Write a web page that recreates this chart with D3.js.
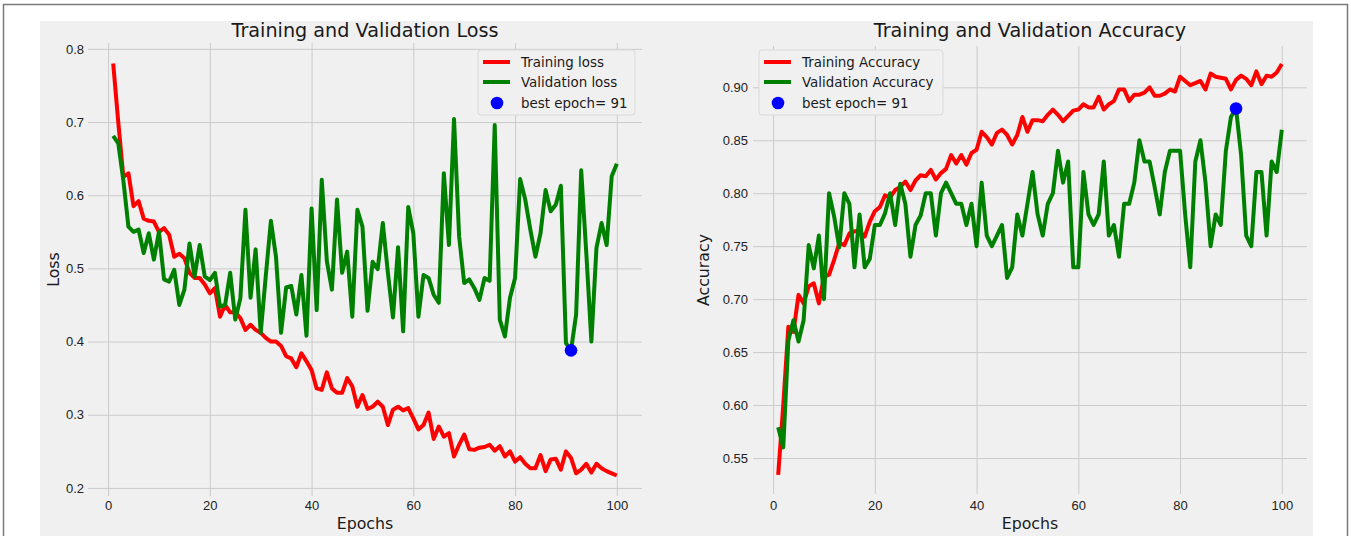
<!DOCTYPE html>
<html>
<head>
<meta charset="utf-8">
<script src="https://cdn.jsdelivr.net/npm/d3@7"></script>
<style>
  html, body { margin: 0; padding: 0; background: #fff; }
  svg { display: block; font-family: "DejaVu Sans", sans-serif; }
  .grid line { stroke: #cbcbcb; stroke-width: 1; }
  .grid text { fill: #222; font-size: 13px; }
</style>
</head>
<body>
<div id="main"></div>
<script>
// values, epoch 1..100
const trainLoss = [0.78,0.70,0.625,0.63,0.585,0.592,0.568,0.565,0.564,0.55,
  0.555,0.546,0.516,0.52,0.514,0.494,0.487,0.487,0.478,0.466,
  0.473,0.434,0.45,0.44,0.44,0.432,0.416,0.423,0.416,0.412,
  0.405,0.40,0.40,0.394,0.38,0.377,0.365,0.384,0.373,0.361,
  0.336,0.334,0.358,0.336,0.33,0.33,0.35,0.339,0.311,0.327,
  0.308,0.311,0.318,0.311,0.286,0.307,0.311,0.306,0.309,0.295,
  0.28,0.286,0.303,0.267,0.284,0.27,0.275,0.243,0.259,0.273,
  0.253,0.252,0.255,0.256,0.259,0.251,0.257,0.243,0.25,0.236,
  0.242,0.233,0.227,0.227,0.245,0.223,0.239,0.24,0.225,0.25,
  0.241,0.22,0.225,0.233,0.221,0.233,0.227,0.223,0.22,0.217];
const valLoss = [0.681,0.671,0.62,0.557,0.55,0.553,0.521,0.548,0.512,0.55,
  0.485,0.482,0.498,0.45,0.471,0.534,0.489,0.532,0.489,0.484,
  0.494,0.448,0.45,0.494,0.43,0.459,0.58,0.46,0.526,0.412,
  0.49,0.565,0.516,0.412,0.474,0.476,0.437,0.491,0.408,0.582,
  0.443,0.621,0.51,0.471,0.594,0.494,0.523,0.434,0.58,0.557,
  0.442,0.509,0.499,0.562,0.494,0.433,0.529,0.414,0.584,0.548,
  0.434,0.491,0.487,0.464,0.453,0.63,0.532,0.704,0.544,0.48,
  0.485,0.473,0.457,0.487,0.483,0.696,0.43,0.407,0.46,0.487,
  0.622,0.594,0.553,0.516,0.548,0.607,0.578,0.587,0.613,0.398,
  0.388,0.437,0.634,0.521,0.40,0.528,0.562,0.532,0.626,0.643];
const trainAcc = [0.534,0.60,0.674,0.669,0.704,0.696,0.712,0.715,0.696,0.721,
  0.723,0.737,0.753,0.751,0.762,0.764,0.764,0.759,0.773,0.783,
  0.787,0.798,0.796,0.803,0.806,0.811,0.803,0.812,0.817,0.816,
  0.822,0.813,0.819,0.823,0.836,0.828,0.836,0.827,0.838,0.841,
  0.858,0.853,0.846,0.857,0.86,0.855,0.846,0.855,0.872,0.858,
  0.869,0.869,0.868,0.874,0.879,0.874,0.868,0.873,0.878,0.879,
  0.884,0.881,0.881,0.891,0.879,0.884,0.887,0.898,0.898,0.887,
  0.893,0.893,0.895,0.90,0.892,0.892,0.894,0.898,0.896,0.91,
  0.906,0.902,0.904,0.906,0.898,0.913,0.91,0.909,0.908,0.898,
  0.907,0.911,0.908,0.902,0.915,0.903,0.911,0.91,0.914,0.922];
const valAcc = [0.579,0.56,0.661,0.68,0.66,0.68,0.751,0.729,0.76,0.70,
  0.80,0.778,0.749,0.80,0.79,0.73,0.78,0.73,0.738,0.77,
  0.77,0.781,0.80,0.77,0.809,0.79,0.74,0.77,0.779,0.80,
  0.80,0.76,0.80,0.81,0.80,0.79,0.79,0.77,0.79,0.75,
  0.81,0.76,0.75,0.76,0.77,0.72,0.73,0.78,0.76,0.79,
  0.82,0.78,0.76,0.79,0.80,0.84,0.81,0.83,0.73,0.73,
  0.82,0.78,0.77,0.78,0.83,0.76,0.77,0.74,0.79,0.79,
  0.81,0.85,0.83,0.83,0.806,0.78,0.82,0.84,0.84,0.84,
  0.78,0.73,0.83,0.85,0.81,0.75,0.78,0.77,0.84,0.872,
  0.88,0.836,0.76,0.75,0.82,0.82,0.76,0.83,0.82,0.86];
const epochs = trainLoss.map((_, i) => i + 1);
const bestEpoch = 91;
const xTicks = [0, 20, 40, 60, 80, 100];
const lossTicks = [0.2, 0.3, 0.4, 0.5, 0.6, 0.7, 0.8];
const accTicks = [0.55, 0.60, 0.65, 0.70, 0.75, 0.80, 0.85, 0.90];

const W = 1351, H = 536;
const svg = d3.select('#main').append('svg')
  .attr('width', W).attr('height', H).attr('viewBox', [0, 0, W, H]);

// page frame + figure background
svg.append('rect').attr('x', 3.5).attr('y', 4.5).attr('width', 1344).attr('height', 560)
  .attr('fill', '#fff').attr('stroke', '#7a7a7a').attr('stroke-width', 1.5);
svg.append('rect').attr('x', 40).attr('y', 21).attr('width', 1273).attr('height', 530)
  .attr('fill', '#f0f0f0');

function panel(o) {
  const sx = d3.scaleLinear().domain([-3.95, 104.95]).range([o.x0, o.x1]);
  const sy = d3.scaleLinear().domain(o.ydom).range([o.y1, o.y0]);

  svg.append('g').attr('class', 'grid')
    .attr('transform', `translate(0,${o.y1})`)
    .call(d3.axisBottom(sx).tickValues(xTicks).tickFormat(d3.format('d'))
      .tickSizeInner(-(o.y1 - o.y0)).tickSizeOuter(0).tickPadding(o.xpad))
    .call(g => g.select('.domain').remove());
  svg.append('g').attr('class', 'grid')
    .attr('transform', `translate(${o.x0},0)`)
    .call(d3.axisLeft(sy).tickValues(o.yticks).tickFormat(d3.format(o.yfmt))
      .tickSizeInner(-(o.x1 - o.x0)).tickSizeOuter(0).tickPadding(o.ypad))
    .call(g => g.select('.domain').remove());

  const line = (vals) => d3.line().x((d, i) => sx(epochs[i])).y(d => sy(d))(vals);
  svg.append('path').attr('d', line(o.train)).attr('fill', 'none')
    .attr('stroke', '#ff0000').attr('stroke-width', 4).attr('stroke-linejoin', 'round');
  svg.append('path').attr('d', line(o.val)).attr('fill', 'none')
    .attr('stroke', '#008000').attr('stroke-width', 4).attr('stroke-linejoin', 'round');
  svg.append('circle').attr('cx', sx(bestEpoch)).attr('cy', sy(o.val[bestEpoch - 1]))
    .attr('r', 6.3).attr('fill', '#0000ff');

  const cx = (o.x0 + o.x1) / 2, cy = (o.y0 + o.y1) / 2;
  svg.append('text').attr('x', cx).attr('y', 37).attr('text-anchor', 'middle')
    .attr('font-size', 19.2).attr('fill', '#1a1a1a').text(o.title);
  svg.append('text').attr('x', cx).attr('y', 529).attr('text-anchor', 'middle')
    .attr('font-size', 15.8).attr('fill', '#1a1a1a').text('Epochs');
  svg.append('text').attr('transform', `translate(${o.ylx},${cy}) rotate(-90)`)
    .attr('text-anchor', 'middle').attr('font-size', 15.8).attr('fill', '#1a1a1a').text(o.ylabel);

  // legend
  const L = o.leg;
  svg.append('rect').attr('x', L.x).attr('y', 50).attr('width', L.w).attr('height', 65)
    .attr('rx', 3).attr('fill', '#f0f0f0').attr('stroke', '#d9d9d9').attr('stroke-width', 1);
  const rows = [
    { y: 62, kind: 'line', color: '#ff0000', label: o.names[0] },
    { y: 82, kind: 'line', color: '#008000', label: o.names[1] },
    { y: 103, kind: 'dot', color: '#0000ff', label: 'best epoch= ' + bestEpoch }
  ];
  rows.forEach(r => {
    if (r.kind === 'line') {
      svg.append('line').attr('x1', L.x + 5).attr('x2', L.x + 32).attr('y1', r.y).attr('y2', r.y)
        .attr('stroke', r.color).attr('stroke-width', 4);
    } else {
      svg.append('circle').attr('cx', L.x + 19).attr('cy', r.y).attr('r', 6.3).attr('fill', r.color);
    }
    svg.append('text').attr('x', L.x + 43).attr('y', r.y + 4.8).attr('font-size', 13.4)
      .attr('fill', '#1a1a1a').text(r.label);
  });
}

panel({
  x0: 88, x1: 642, y0: 43, y1: 496, ydom: [0.189, 0.808],
  yticks: lossTicks, yfmt: '.1f', xpad: 5, ypad: 4,
  train: trainLoss, val: valLoss,
  title: 'Training and Validation Loss', ylabel: 'Loss', ylx: 59,
  names: ['Training loss', 'Validation loss'],
  leg: { x: 478, w: 157 }
});
panel({
  x0: 753, x1: 1307, y0: 46, y1: 494, ydom: [0.516, 0.939],
  yticks: accTicks, yfmt: '.2f', xpad: 7, ypad: 5,
  train: trainAcc, val: valAcc,
  title: 'Training and Validation Accuracy', ylabel: 'Accuracy', ylx: 709,
  names: ['Training Accuracy', 'Validation Accuracy'],
  leg: { x: 759, w: 184 }
});
</script>
</body>
</html>
